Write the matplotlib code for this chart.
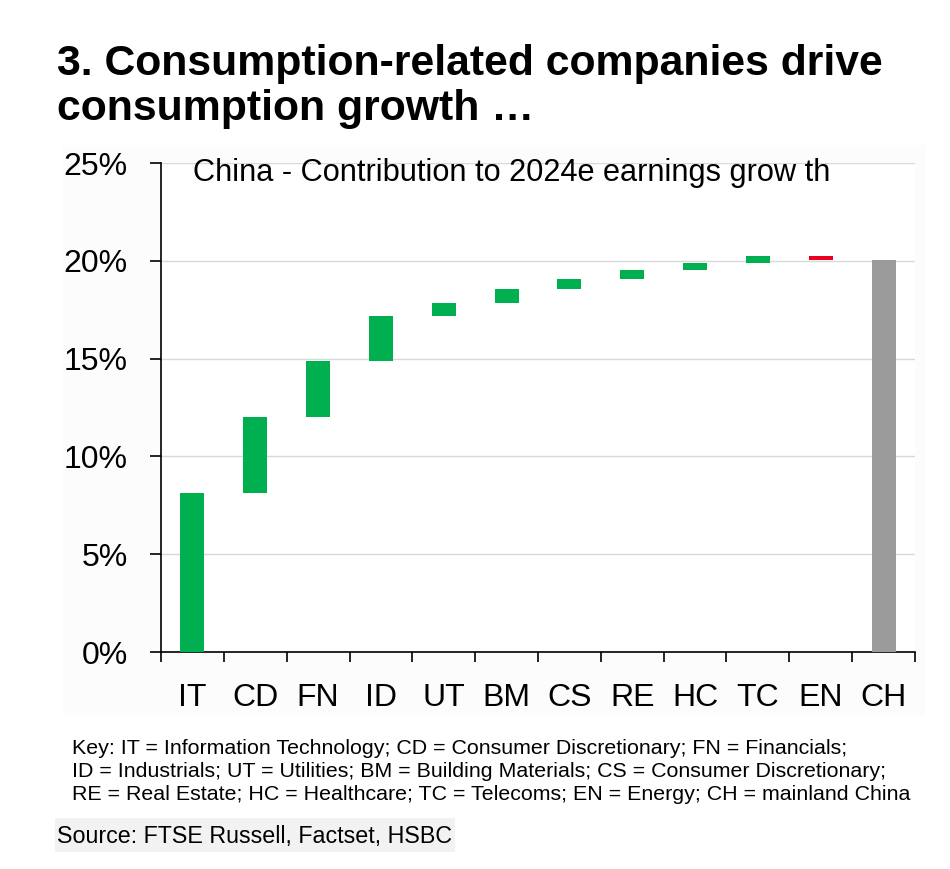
import numpy as np
import matplotlib.pyplot as plt
from matplotlib.patches import Rectangle

# Sector codes and contribution to 2024e earnings growth (ppt)
categories = ['IT', 'CD', 'FN', 'ID', 'UT', 'BM', 'CS', 'RE', 'HC', 'TC', 'EN', 'CH']
contrib = [8.14, 3.86, 2.86, 2.33, 0.67, 0.68, 0.53, 0.46, 0.36, 0.34, -0.19]
yticks = [0, 5, 10, 15, 20, 25]

key_lines = [
    'Key: IT = Information Technology; CD = Consumer Discretionary; FN = Financials;',
    'ID = Industrials; UT = Utilities; BM = Building Materials; CS = Consumer Discretionary;',
    'RE = Real Estate; HC = Healthcare; TC = Telecoms; EN = Energy; CH = mainland China',
]

plt.rcParams['font.family'] = ['Liberation Sans', 'DejaVu Sans']

W, H = 950, 869
fig = plt.figure(figsize=(W / 100, H / 100), dpi=100)


def fx(px):
    return px / W


def fy(px):
    return 1 - px / H


# faint panel behind the chart, grey box behind the source line
fig.patches.append(Rectangle((fx(63), fy(715)), fx(925) - fx(63), fy(145) - fy(715),
                             transform=fig.transFigure, facecolor='#fcfcfc',
                             edgecolor='none', zorder=-1))
fig.patches.append(Rectangle((fx(55), fy(852)), fx(455) - fx(55), fy(818) - fy(852),
                             transform=fig.transFigure, facecolor='#f2f2f2',
                             edgecolor='none', zorder=-1))

ax = fig.add_axes([fx(161), fy(652), fx(915) - fx(161), fy(163) - fy(652)])
ax.set_facecolor('white')

# waterfall: running total gives each bar's base
ends = np.cumsum(contrib)
starts = ends - np.array(contrib)
total = ends[-1]

x = np.arange(len(categories))
colors = ['#00b050' if c >= 0 else '#e8001c' for c in contrib]
ax.bar(x[:-1], contrib, bottom=starts, width=0.38, color=colors, zorder=3)
ax.bar(x[-1], total, width=0.38, color='#9b9b9b', zorder=3)

ax.set_xlim(-0.5, len(categories) - 0.5)
ax.set_ylim(0, 25)
ax.set_yticks(yticks)
ax.set_yticklabels([f'{v}%' for v in yticks], fontsize=23)
ax.set_xticks(x)
ax.set_xticklabels(categories, fontsize=23)
ax.tick_params(axis='x', length=0, pad=22)
# tick marks between categories
ax.set_xticks(np.arange(-0.5, len(categories)), minor=True)
ax.tick_params(axis='x', which='minor', length=7, width=1.2, direction='out')
ax.tick_params(axis='y', length=8, width=1.2, direction='out', pad=16)

for s in ['top', 'right']:
    ax.spines[s].set_visible(False)
ax.spines['left'].set_linewidth(1.2)
ax.spines['bottom'].set_linewidth(1.2)
ax.grid(axis='y', color='#d9d9d9', linewidth=1, zorder=0)

renderer = fig.canvas.get_renderer()


def fit(t, width_px):
    w = t.get_window_extent(renderer).width
    t.set_fontsize(t.get_fontsize() * width_px / w)
    return t.get_fontsize()


t1 = fig.text(fx(57), fy(75), '3. Consumption-related companies drive',
              fontsize=25, fontweight='bold', va='baseline')
size = fit(t1, 826)
fig.text(fx(57), fy(120), 'consumption growth \u2026',
         fontsize=size, fontweight='bold', va='baseline')

t2 = fig.text(fx(193), fy(181), 'China - Contribution to 2024e earnings grow th',
              fontsize=22, va='baseline')
fit(t2, 635)

k0 = fig.text(fx(72), fy(754), key_lines[0], fontsize=15, va='baseline')
ksize = fit(k0, 776)
for i, line in enumerate(key_lines[1:], start=1):
    fig.text(fx(72), fy(754 + 23 * i), line, fontsize=ksize, va='baseline')

t3 = fig.text(fx(57), fy(843), 'Source: FTSE Russell, Factset, HSBC', fontsize=17,
              va='baseline')
fit(t3, 395)

fig.savefig('out.png', dpi=100)
